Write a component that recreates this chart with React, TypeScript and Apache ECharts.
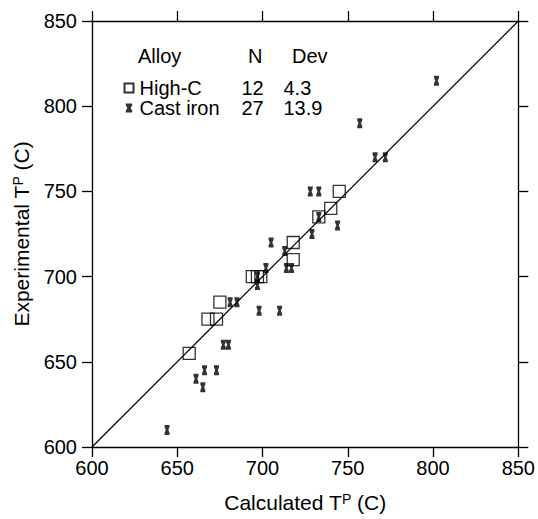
import React, { useEffect, useRef } from "react";
import * as echarts from "echarts";

const axisTicks = [600, 650, 700, 750, 800, 850];

const highCCalc = [657, 668, 673, 675, 694, 697, 699, 718, 718, 733, 740, 745];
const highCExp = [655, 675, 675, 685, 700, 700, 700, 710, 720, 735, 740, 750];

const castCalc = [644, 661, 665, 666, 673, 677, 680, 681, 685, 698, 710, 697, 697, 702, 714, 717, 713, 705, 729, 733, 744, 728, 733, 757, 766, 772, 802];
const castExp = [610, 640, 635, 645, 645, 660, 660, 685, 685, 680, 680, 695, 700, 705, 705, 705, 715, 720, 725, 735, 730, 750, 750, 790, 770, 770, 815];

const alloyNames = ["High-C", "Cast iron"];
const alloyN = [12, 27];
const alloyDev = ["4.3", "13.9"];
const headers = ["Alloy", "N", "Dev"];

const FONT = "Liberation Sans, Arial, Helvetica, sans-serif";
const HOURGLASS = "path://M0,0H10V3L7.5,7L10,11V14H0V11L2.5,7L0,3Z";

export default function App() {
  const ref = useRef<HTMLDivElement>(null);
  useEffect(() => {
    if (!ref.current) return;
    const chart = echarts.init(ref.current, null, { renderer: "svg" });
    const lo = axisTicks[0];
    const hi = axisTicks[axisTicks.length - 1];
    const step = axisTicks[1] - axisTicks[0];
    const axisLine = { show: true, lineStyle: { color: "#000", width: 1.3 } };
    const tick = { show: true, inside: false, length: 10, lineStyle: { color: "#000", width: 1.3 } };
    const label = { fontSize: 20, color: "#000", fontFamily: FONT };
    const nameStyle = {
      fontSize: 21,
      color: "#000",
      fontFamily: FONT,
      rich: { sup: { fontSize: 14, verticalAlign: "top", color: "#000", fontFamily: FONT } },
    };
    const tok = { fontSize: 20, fontFamily: FONT, color: "#000", lineHeight: 18, height: 18 };
    chart.setOption({
      animation: false,
      backgroundColor: "#fff",
      grid: { left: 92, right: 18, top: 21, bottom: 72, containLabel: false },
      xAxis: [
        {
          type: "value", min: lo, max: hi, interval: step, position: "bottom",
          axisLine, axisTick: tick, splitLine: { show: false },
          axisLabel: { ...label, margin: 11 },
          name: "Calculated T{sup|P} (C)", nameLocation: "middle", nameGap: 45, nameTextStyle: nameStyle,
        },
        {
          type: "value", min: lo, max: hi, interval: step, position: "top",
          axisLine, axisTick: tick, splitLine: { show: false }, axisLabel: { show: false },
        },
      ],
      yAxis: [
        {
          type: "value", min: lo, max: hi, interval: step, position: "left",
          axisLine, axisTick: tick, splitLine: { show: false },
          axisLabel: { ...label, margin: 15 },
          name: "Experimental T{sup|P} (C)", nameLocation: "middle", nameGap: 60, nameTextStyle: nameStyle,
        },
        {
          type: "value", min: lo, max: hi, interval: step, position: "right",
          axisLine, axisTick: tick, splitLine: { show: false }, axisLabel: { show: false },
        },
      ],
      legend: {
        orient: "vertical",
        left: 122,
        top: 78,
        padding: 0,
        itemGap: 0,
        itemWidth: 9,
        itemHeight: 9,
        data: alloyNames,
        formatter: (name: string) => {
          const i = alloyNames.indexOf(name);
          return `{a|${name}}{n|${alloyN[i]}}{d|${alloyDev[i]}}`;
        },
        textStyle: {
          fontSize: 20,
          color: "#000",
          fontFamily: FONT,
          lineHeight: 18,
          rich: {
            a: { ...tok, width: 100, padding: [0, 0, 0, 1] },
            n: { ...tok, width: 26, align: "center" },
            d: { ...tok, padding: [0, 0, 0, 18] },
          },
        },
      },
      graphic: [
        { type: "text", left: 138, top: 46, style: { text: headers[0], fontSize: 20, fontFamily: FONT, fill: "#000" } },
        { type: "text", left: 248, top: 46, style: { text: headers[1], fontSize: 20, fontFamily: FONT, fill: "#000" } },
        { type: "text", left: 292, top: 46, style: { text: headers[2], fontSize: 20, fontFamily: FONT, fill: "#000" } },
      ],
      series: [
        {
          type: "line",
          data: [[lo, lo], [hi, hi]],
          symbol: "none",
          silent: true,
          lineStyle: { color: "#000", width: 1.2 },
          z: 1,
        },
        {
          name: alloyNames[0],
          type: "scatter",
          data: highCCalc.map((x, i) => [x, highCExp[i]]),
          symbol: "rect",
          symbolSize: 12,
          itemStyle: { color: "none", borderColor: "#000", borderWidth: 1.3 },
          z: 3,
        },
        {
          name: alloyNames[1],
          type: "scatter",
          data: castCalc.map((x, i) => [x, castExp[i]]),
          symbol: HOURGLASS,
          symbolKeepAspect: true,
          symbolSize: [7, 10],
          itemStyle: { color: "#000" },
          z: 2,
        },
      ],
    });
    return () => chart.dispose();
  }, []);
  return (
    <div
      ref={ref}
      style={{ position: "fixed", left: 0, top: 0, width: 538, height: 519, background: "#fff" }}
    />
  );
}
